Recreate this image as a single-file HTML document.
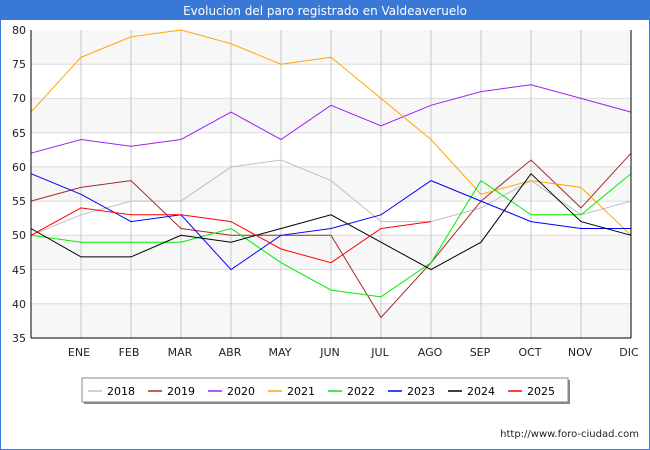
<!DOCTYPE html>
<html><head><meta charset="utf-8"><style>
body{margin:0;background:#fff;}
svg{display:block;font-family:"DejaVu Sans","Liberation Sans",sans-serif;}
</style></head><body>
<svg width="650" height="450" xmlns="http://www.w3.org/2000/svg">
<rect x="0" y="0" width="650" height="450" fill="#fff"/>
<rect x="0.5" y="0.5" width="649" height="449" fill="none" stroke="#3a78d8" stroke-width="1"/>
<rect x="0" y="0" width="650" height="20" fill="#3a78d8"/>
<text x="325" y="15" font-size="12" fill="#fff" text-anchor="middle">Evolucion del paro registrado en Valdeaveruelo</text>
<g fill="#f7f7f7">
<rect x="31" y="30" width="600" height="34.2"/>
<rect x="31" y="98.4" width="600" height="34.2"/>
<rect x="31" y="166.9" width="600" height="34.2"/>
<rect x="31" y="235.3" width="600" height="34.2"/>
<rect x="31" y="303.8" width="600" height="34.2"/>
</g>
<g stroke="#dcdcdc" stroke-width="1">
<line x1="31" x2="631" y1="64.2" y2="64.2"/><line x1="31" x2="631" y1="98.4" y2="98.4"/>
<line x1="31" x2="631" y1="132.7" y2="132.7"/><line x1="31" x2="631" y1="166.9" y2="166.9"/>
<line x1="31" x2="631" y1="201.1" y2="201.1"/><line x1="31" x2="631" y1="235.3" y2="235.3"/>
<line x1="31" x2="631" y1="269.6" y2="269.6"/><line x1="31" x2="631" y1="303.8" y2="303.8"/>
</g>
<g stroke="#c8c8c8" stroke-width="1">
<line x1="81" x2="81" y1="30" y2="338"/><line x1="131" x2="131" y1="30" y2="338"/>
<line x1="181" x2="181" y1="30" y2="338"/><line x1="231" x2="231" y1="30" y2="338"/>
<line x1="281" x2="281" y1="30" y2="338"/><line x1="331" x2="331" y1="30" y2="338"/>
<line x1="381" x2="381" y1="30" y2="338"/><line x1="431" x2="431" y1="30" y2="338"/>
<line x1="481" x2="481" y1="30" y2="338"/><line x1="531" x2="531" y1="30" y2="338"/>
<line x1="581" x2="581" y1="30" y2="338"/>
</g>
<g font-size="11" fill="#222" text-anchor="end">
<text x="26" y="34">80</text><text x="26" y="68">75</text><text x="26" y="102">70</text>
<text x="26" y="137">65</text><text x="26" y="171">60</text><text x="26" y="205">55</text>
<text x="26" y="239">50</text><text x="26" y="274">45</text><text x="26" y="308">40</text>
<text x="26" y="342">35</text>
</g>
<g font-size="11" fill="#222" text-anchor="middle">
<text x="79" y="356">ENE</text><text x="129" y="356">FEB</text><text x="180" y="356">MAR</text>
<text x="230" y="356">ABR</text><text x="280" y="356">MAY</text><text x="330" y="356">JUN</text>
<text x="380" y="356">JUL</text><text x="430" y="356">AGO</text><text x="480" y="356">SEP</text>
<text x="530" y="356">OCT</text><text x="580" y="356">NOV</text><text x="629" y="356">DIC</text>
</g>
<g fill="none" stroke-width="1">
<polyline stroke="#c0c0c0" points="31,235.3 81,214.8 131,201.1 181,201.1 231,166.9 281,160.0 331,180.6 381,221.6 431,221.6 481,207.9 531,180.6 581,214.8 631,201.1"/>
<polyline stroke="#a52a2a" points="31,201.1 81,187.4 131,180.6 181,228.5 231,235.3 281,235.3 331,235.3 381,317.5 431,262.7 481,201.1 531,160.0 581,207.9 631,153.2"/>
<polyline stroke="#a020f0" points="31,153.2 81,139.5 131,146.3 181,139.5 231,112.1 281,139.5 331,105.3 381,125.8 431,105.3 481,91.6 531,84.8 581,98.4 631,112.1"/>
<polyline stroke="#ffa500" points="31,112.1 81,57.3 131,36.8 181,30 231,43.7 281,64.2 331,57.3 381,98.4 431,139.5 481,194.3 531,180.6 581,187.4 631,235.3"/>
<polyline stroke="#00ee00" points="31,235.3 81,242.2 131,242.2 181,242.2 231,228.5 281,262.7 331,290.1 381,296.9 431,262.7 481,180.6 531,214.8 581,214.8 631,173.7"/>
<polyline stroke="#0000ff" points="31,173.7 81,194.3 131,221.6 181,214.8 231,269.6 281,235.3 331,228.5 381,214.8 431,180.6 481,201.1 531,221.6 581,228.5 631,228.5"/>
<polyline stroke="#000000" points="31,228.5 81,256.9 131,256.9 181,235.3 231,242.2 281,228.5 331,214.8 381,242.2 431,269.6 481,242.2 531,173.7 581,221.6 631,235.3"/>
<polyline stroke="#ff0000" points="31,235.3 81,207.9 131,214.8 181,214.8 231,221.6 281,249.0 331,262.7 381,228.5 431,221.6"/>
</g>
<line x1="31" x2="31" y1="30" y2="338" stroke="#000"/>
<line x1="31" x2="631" y1="338" y2="338" stroke="#000"/>
<line x1="631" x2="631" y1="30" y2="338" stroke="#000"/>
<rect x="84" y="380" width="486" height="24" fill="#888"/>
<rect x="82" y="378" width="486" height="24" fill="#fff" stroke="#888"/>
<g stroke-width="1.5">
<line x1="88" x2="102" y1="391" y2="391" stroke="#c0c0c0"/>
<line x1="148" x2="162" y1="391" y2="391" stroke="#a52a2a"/>
<line x1="208" x2="222" y1="391" y2="391" stroke="#a020f0"/>
<line x1="268" x2="282" y1="391" y2="391" stroke="#ffa500"/>
<line x1="328" x2="342" y1="391" y2="391" stroke="#00ee00"/>
<line x1="388" x2="402" y1="391" y2="391" stroke="#0000ff"/>
<line x1="448" x2="462" y1="391" y2="391" stroke="#000"/>
<line x1="508" x2="522" y1="391" y2="391" stroke="#ff0000"/>
</g>
<g font-size="11" fill="#000">
<text x="107" y="395">2018</text><text x="167" y="395">2019</text><text x="227" y="395">2020</text>
<text x="287" y="395">2021</text><text x="347" y="395">2022</text><text x="407" y="395">2023</text>
<text x="467" y="395">2024</text><text x="527" y="395">2025</text>
</g>
<text x="639" y="437" font-size="10" fill="#222" text-anchor="end">http://www.foro-ciudad.com</text>
</svg>
</body></html>
